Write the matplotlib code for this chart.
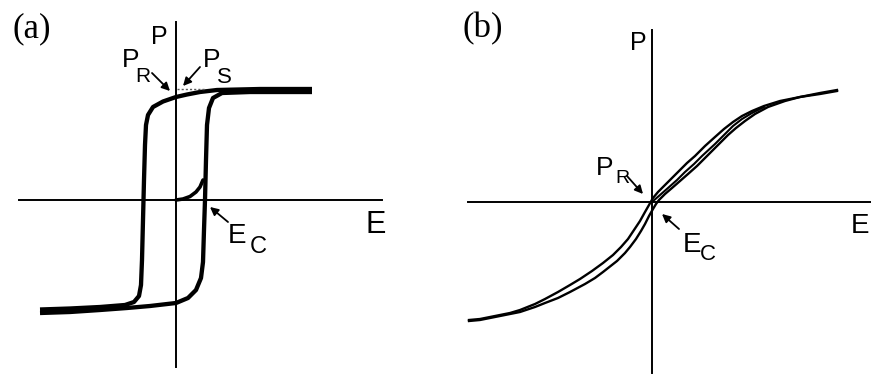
import matplotlib.pyplot as plt

plt.rcParams['font.family'] = 'Liberation Sans'

# (a) hysteresis loop of a normal ferroelectric, arbitrary units
a_down_E = [136, 84, 41, 24, 11, 0, -13, -23, -28, -30, -31, -32, -33, -34, -35, -37, -42, -51, -76, -106, -136]
a_down_P = [111, 111, 110, 108, 105.5, 103, 98.5, 93, 85, 75, 55, 20, -20, -60, -85, -96, -102, -105, -107, -108.5, -109.5]
a_up_E = [-136, -106, -76, -49, -26, 0, 12, 20, 25, 27, 28, 29, 30, 31, 33, 37, 46, 74, 136]
a_up_P = [-113, -112, -110, -108, -106, -103, -98, -90, -78, -62, -30, 0, 40, 75, 92, 102, 107, 108, 108]
a_virgin_E = [0, 7, 14, 20, 24, 27]
a_virgin_P = [0, 1, 3.5, 8, 13, 20]
a_ps_E = [1, 29]
a_ps_P = [111.5, 111.5]

# (b) slim loop, arbitrary units
b_down_E = [185, 168, 148, 128, 112, 100, 90, 81, 72, 63, 53, 43, 35, 26, 20, 13, 6, 1, -3, -7, -12,
            -18, -24, -31, -39, -49, -60, -72, -82, -94, -107, -117, -132, -142, -157, -172, -183]
b_down_P = [112, 109, 105, 101, 96, 91, 86, 80, 73, 65, 56, 46, 39, 30, 24, 17, 10, 4, -3, -10, -19,
            -28, -37, -45, -53, -61, -69, -77, -83, -90, -97, -102, -108, -111, -114, -117, -118]
b_up_E = [-183, -172, -157, -142, -132, -117, -107, -94, -82, -67, -57, -49, -35, -27, -22, -16, -11, -7, -3, 1,
          4, 7, 13, 20, 28, 36, 45, 53, 61, 68, 76, 84, 93, 103, 116, 133, 148, 168, 185]
b_up_P = [-119, -118, -115, -112, -110, -105, -101, -96, -90, -82, -76, -70, -59, -51, -45, -37, -29, -22, -14, -7,
          -2, 2, 8, 14, 21, 28, 36, 44, 52, 59, 67, 74, 81, 88, 95, 101, 105, 108, 111]
b_virgin_E = [0, 8, 16, 25, 33, 42, 50, 63, 72, 81, 90, 100, 112]
b_virgin_P = [0, 7, 14, 22, 30, 38, 46, 58, 67, 76, 83, 89, 95]


def setup(ax, xlim, ylim, lw):
    ax.set_xlim(xlim)
    ax.set_ylim(ylim)
    ax.spines['top'].set_visible(False)
    ax.spines['right'].set_visible(False)
    ax.spines['left'].set_position('zero')
    ax.spines['bottom'].set_position('zero')
    ax.spines['left'].set_linewidth(lw)
    ax.spines['bottom'].set_linewidth(lw)
    ax.set_xticks([])
    ax.set_yticks([])
    ax.patch.set_visible(False)


def arrow(ax, tail, head):
    ax.annotate('', xy=head, xytext=tail,
                arrowprops=dict(arrowstyle='-|>', lw=1.3, color='black',
                                mutation_scale=12, shrinkA=0, shrinkB=0))


def label(ax, pos, main, sub, size, sub_pos, sub_size):
    # symbol with a plain lowered subscript
    ax.text(pos[0], pos[1], main, fontsize=size, va='baseline')
    ax.text(sub_pos[0], sub_pos[1], sub, fontsize=sub_size, va='baseline')


W, H = 871, 378
fig = plt.figure(figsize=(W / 100, H / 100), dpi=100)

# panel (a)
ax1 = fig.add_axes([19 / W, 1 - 367 / H, (382 - 19) / W, (367 - 22) / H])
setup(ax1, (-157, 206), (-167, 178), 1.4)
ax1.plot(a_down_E, a_down_P, color='black', lw=3.1, solid_capstyle='butt', clip_on=False)
ax1.plot(a_up_E, a_up_P, color='black', lw=3.1, solid_capstyle='butt', clip_on=False)
ax1.plot(a_virgin_E, a_virgin_P, color='black', lw=2.6, solid_capstyle='round')
ax1.plot(a_ps_E, a_ps_P, color='0.35', lw=1.0, ls=(0, (1.5, 1.5)))

ax1.text(-25, 156, 'P', fontsize=18, va='baseline')
label(ax1, (-54, 133), 'P', 'R', 19, (-41, 118), 15)
label(ax1, (27, 133), 'P', 'S', 19, (41, 117), 16)
label(ax1, (52, -43), 'E', 'C', 20, (74, -53), 17)
ax1.text(189, -33, 'E', fontsize=22, va='baseline')
arrow(ax1, (-24, 127), (-6, 109))
arrow(ax1, (24, 133), (7, 114))
arrow(ax1, (52, -22), (34, -7))

# panel (b)
ax2 = fig.add_axes([468 / W, 1 - 373 / H, (W - 468) / W, (373 - 30) / H])
setup(ax2, (-184, 219), (-171, 172), 1.4)
ax2.plot(b_down_E, b_down_P, color='black', lw=1.7, clip_on=False)
ax2.plot(b_up_E, b_up_P, color='black', lw=1.7, clip_on=False)
ax2.plot(b_virgin_E, b_virgin_P, color='black', lw=1.5)

ax2.text(-22, 152, 'P', fontsize=18, va='baseline')
label(ax2, (-56, 27), 'P', 'R', 19, (-37, 19), 14)
label(ax2, (31, -50), 'E', 'C', 20, (48, -58), 16)
ax2.text(199, -31, 'E', fontsize=20, va='baseline')
arrow(ax2, (-25, 26), (-9, 8))
arrow(ax2, (27, -27), (10, -12))

fig.text(12 / W, 1 - 37 / H, '(a)', family='Liberation Serif', fontsize=25, va='baseline')
fig.text(462 / W, 1 - 37 / H, '(b)', family='Liberation Serif', fontsize=25, va='baseline')

fig.savefig('out.png', dpi=100)
